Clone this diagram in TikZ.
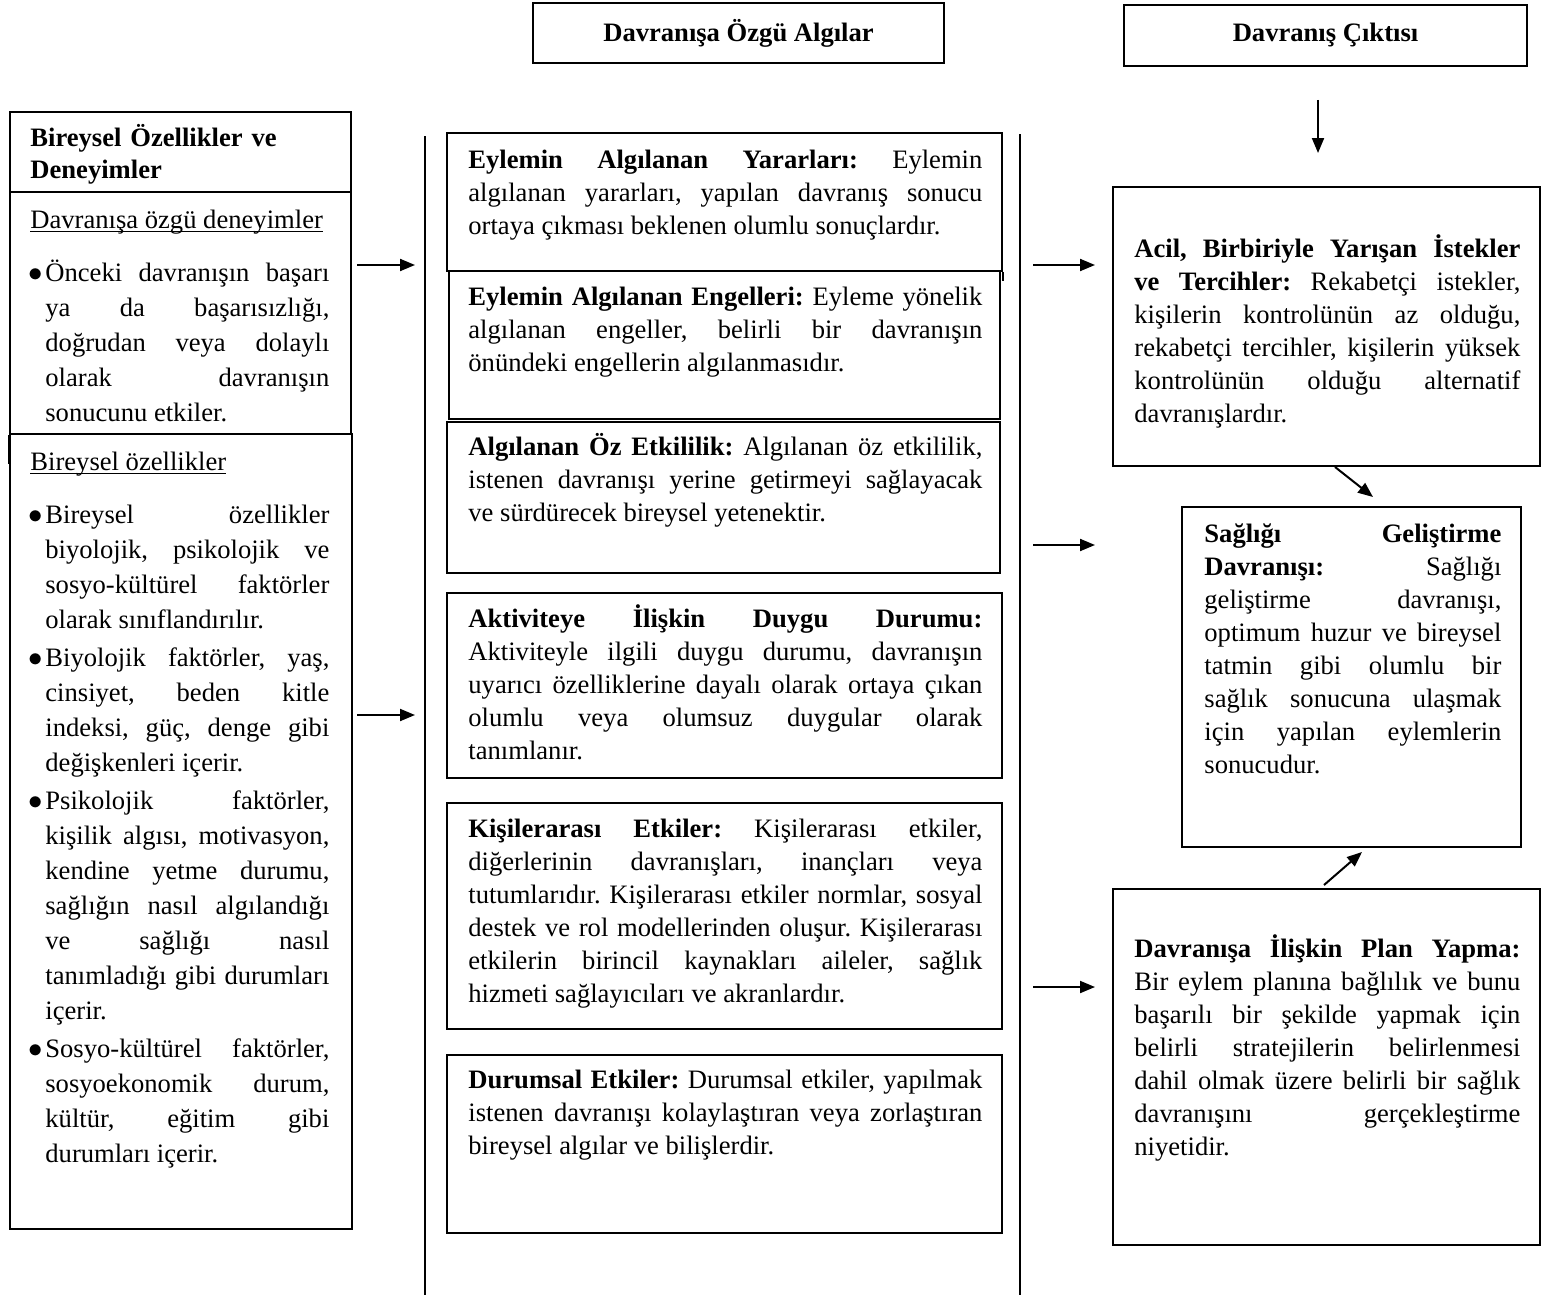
\documentclass[tikz,border=0pt]{standalone}
\usepackage{fontspec}
\setmainfont{Liberation Serif}
\usetikzlibrary{arrows.meta,fit}
\tolerance=10000
\pretolerance=10000
\hyphenpenalty=10000
\exhyphenpenalty=10000
\hbadness=10000
\newcommand\bodyfont{\fontsize{13.3pt}{16.5pt}\selectfont\frenchspacing}
\newcommand\listfont{\fontsize{13.3pt}{17.5pt}\selectfont\frenchspacing}
\newcommand\ulx[1]{\leavevmode\setbox0\hbox{#1}\rlap{\rule[-2pt]{\wd0}{0.7pt}}\box0}
\newcommand\bul{\leavevmode\llap{$\bullet$\hspace{1.2pt}}}
\begin{document}
\begin{tikzpicture}[x=0.5pt,y=-0.5pt,
  box/.style={draw,line width=0.9pt,inner sep=0pt},
  txt/.style={anchor=base west,inner sep=0pt,align=justify,font=\bodyfont},
  lst/.style={anchor=base west,inner sep=0pt,align=justify,font=\listfont},
  lbl/.style={anchor=base west,inner sep=0pt,font=\bodyfont},
  arr/.style={line width=1pt,-{Triangle[length=7.5pt,width=6pt]}},
  vline/.style={line width=0.9pt}]
\useasboundingbox (0,0) rectangle (1550,1295);

% titles
\node[box,minimum width=205.5pt,minimum height=30pt,font=\bodyfont\bfseries] (t1) at (738.5,33) {Davranışa Özgü Algılar};
\node[box,minimum width=201.5pt,minimum height=30.5pt,font=\bodyfont\bfseries] (t2) at (1325.5,35.5) {Davranış Çıktısı};

% left column
\node[box,fit={(10,112) (351,192)}] (lhdr) {};
\node[box,fit={(10,192) (351,434)}] (lexp) {};
\draw[vline] (lexp.south west) -- ++(0,29);
\node[box,fit={(10,434) (352,1229)}] (lchar) {};

\node[txt,align=left,text width=160pt,font=\bodyfont\bfseries] (lhdr-t) at (30,146) {Bireysel Özellikler ve\\Deneyimler};
\node[lbl] (lexp-h) at (30,228) {\ulx{Davranışa özgü deneyimler}};
\node[lst,text width=142pt] (lexp-l) at (45,281) {\bul Önceki davranışın başarı\linebreak ya da başarısızlığı,\linebreak doğrudan veya dolaylı\linebreak olarak davranışın\linebreak sonucunu etkiler.};
\node[lbl] (lchar-h) at (30,470) {\ulx{Bireysel özellikler}};
\node[lst,text width=142pt] (lchar-l) at (45,523) {\setlength\parskip{1.5pt}%
\bul Bireysel özellikler\linebreak biyolojik, psikolojik ve\linebreak sosyo-kültürel faktörler\linebreak olarak sınıflandırılır.\par
\bul Biyolojik faktörler, yaş,\linebreak cinsiyet, beden kitle\linebreak indeksi, güç, denge gibi\linebreak değişkenleri içerir.\par
\bul Psikolojik faktörler,\linebreak kişilik algısı, motivasyon,\linebreak kendine yetme durumu,\linebreak sağlığın nasıl algılandığı\linebreak ve sağlığı nasıl\linebreak tanımladığı gibi durumları\linebreak içerir.\par
\bul Sosyo-kültürel faktörler,\linebreak sosyoekonomik durum,\linebreak kültür, eğitim gibi\linebreak durumları içerir.};

% middle column
\node[box,fit={(447,133) (1002,271)}] (m1) {};
\draw[vline] (m1.south east) -- ++(0,9);
\node[box,fit={(449,271) (1000,419)}] (m2) {};
\node[box,fit={(447,422) (1000,573)}] (m3) {};
\node[box,fit={(447,593) (1002,778)}] (m4) {};
\node[box,fit={(447,803) (1002,1029)}] (m5) {};
\node[box,fit={(447,1055) (1002,1233)}] (m6) {};

\node[txt,text width=257pt] (m1-t) at (468,168) {\textbf{Eylemin Algılanan Yararları:} Eylemin\linebreak algılanan yararları, yapılan davranış sonucu\linebreak ortaya çıkması beklenen olumlu sonuçlardır.};
\node[txt,text width=257pt] (m2-t) at (468,305) {\textbf{Eylemin Algılanan Engelleri:} Eyleme yönelik\linebreak algılanan engeller, belirli bir davranışın\linebreak önündeki engellerin algılanmasıdır.};
\node[txt,text width=257pt] (m3-t) at (468,455) {\textbf{Algılanan Öz Etkililik:} Algılanan öz etkililik,\linebreak istenen davranışı yerine getirmeyi sağlayacak\linebreak ve sürdürecek bireysel yetenektir.};
\node[txt,text width=257pt] (m4-t) at (468,627) {\textbf{Aktiviteye İlişkin Duygu Durumu:}\linebreak Aktiviteyle ilgili duygu durumu, davranışın\linebreak uyarıcı özelliklerine dayalı olarak ortaya çıkan\linebreak olumlu veya olumsuz duygular olarak\linebreak tanımlanır.};
\node[txt,text width=257pt] (m5-t) at (468,837) {\textbf{Kişilerarası Etkiler:} Kişilerarası etkiler,\linebreak diğerlerinin davranışları, inançları veya\linebreak tutumlarıdır. Kişilerarası etkiler normlar, sosyal\linebreak destek ve rol modellerinden oluşur. Kişilerarası\linebreak etkilerin birincil kaynakları aileler, sağlık\linebreak hizmeti sağlayıcıları ve akranlardır.};
\node[txt,text width=257pt] (m6-t) at (468,1088) {\textbf{Durumsal Etkiler:} Durumsal etkiler, yapılmak\linebreak istenen davranışı kolaylaştıran veya zorlaştıran\linebreak bireysel algılar ve bilişlerdir.};

% right column
\node[box,fit={(1113,187) (1540,466)}] (r1) {};
\node[box,fit={(1182,507) (1521,847)}] (r2) {};
\node[box,fit={(1113,889) (1540,1245)}] (r3) {};

\node[txt,text width=193pt] (r1-t) at (1134,257) {\textbf{Acil, Birbiriyle Yarışan İstekler\linebreak ve Tercihler:} Rekabetçi istekler,\linebreak kişilerin kontrolünün az olduğu,\linebreak rekabetçi tercihler, kişilerin yüksek\linebreak kontrolünün olduğu alternatif\linebreak davranışlardır.};
\node[txt,text width=148.5pt] (r2-t) at (1204,542) {\textbf{Sağlığı Geliştirme\linebreak Davranışı:} Sağlığı\linebreak geliştirme davranışı,\linebreak optimum huzur ve bireysel\linebreak tatmin gibi olumlu bir\linebreak sağlık sonucuna ulaşmak\linebreak için yapılan eylemlerin\linebreak sonucudur.};
\node[txt,text width=193pt] (r3-t) at (1134,957) {\textbf{Davranışa İlişkin Plan Yapma:}\linebreak Bir eylem planına bağlılık ve bunu\linebreak başarılı bir şekilde yapmak için\linebreak belirli stratejilerin belirlenmesi\linebreak dahil olmak üzere belirli bir sağlık\linebreak davranışını gerçekleştirme\linebreak niyetidir.};

% separator lines
\coordinate (v1t) at (425,136);
\coordinate (v1b) at (425,1295);
\coordinate (v2t) at (1020,134);
\coordinate (v2b) at (1020,1295);
\draw[vline] (v1t) -- (v1b);
\draw[vline] (v2t) -- (v2b);

% arrows
\coordinate (a1s) at (357,265);  \coordinate (a1e) at (415,265);
\coordinate (a2s) at (357,715);  \coordinate (a2e) at (415,715);
\coordinate (a3s) at (1033,265); \coordinate (a3e) at (1095,265);
\coordinate (a4s) at (1033,545); \coordinate (a4e) at (1095,545);
\coordinate (a5s) at (1033,987); \coordinate (a5e) at (1095,987);
\coordinate (a6s) at (1318,100); \coordinate (a6e) at (1318,153);
\coordinate (a7s) at (1335,467); \coordinate (a7e) at (1373,497);
\coordinate (a8s) at (1324,885); \coordinate (a8e) at (1362,852);
\draw[arr] (a1s) -- (a1e);
\draw[arr] (a2s) -- (a2e);
\draw[arr] (a3s) -- (a3e);
\draw[arr] (a4s) -- (a4e);
\draw[arr] (a5s) -- (a5e);
\draw[arr] (a6s) -- (a6e);
\draw[arr] (a7s) -- (a7e);
\draw[arr] (a8s) -- (a8e);
\end{tikzpicture}
\end{document}
